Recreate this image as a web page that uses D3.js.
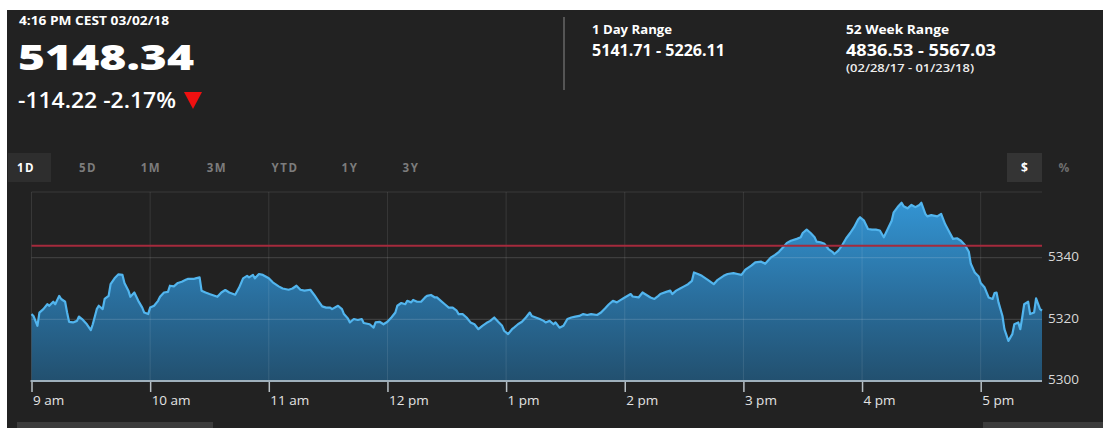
<!DOCTYPE html>
<html>
<head>
<meta charset="utf-8">
<script src="https://cdn.jsdelivr.net/npm/d3@7"></script>
<style>
  html, body { margin: 0; padding: 0; background: #ffffff; }
  svg { display: block; }
  text { font-family: "Open Sans", "DejaVu Sans", sans-serif; }
</style>
</head>
<body>
<svg id="chart" width="1103" height="428"></svg>
<script>
// ---------------- data ----------------
const quoteTime = "4:16 PM CEST 03/02/18";
const lastPrice = "5148.34";
const netChange = "-114.22";
const pctChange = "-2.17%";
const dayRangeLabel = "1 Day Range";
const dayRange = "5141.71 - 5226.11";
const weekRangeLabel = "52 Week Range";
const weekRange = "4836.53 - 5567.03";
const weekRangeDates = "(02/28/17 - 01/23/18)";
const periodTabs = ["1D", "5D", "1M", "3M", "YTD", "1Y", "3Y"];
const unitTabs = ["$", "%"];
const yTickValues = [5300, 5320, 5340];
const previousClose = 5343.9;

// minutes after 9:00 am
const minutesAfterOpen = [
  0,1,3,4,6,8,9,11,12,14,15,17,18,19,21,23,24,26,28,30,31,33,34,36,37,39,40,42,44,46,
  47,49,50,52,54,56,57,59,60,62,64,65,67,69,70,72,74,76,78,79,82,83,85,86,88,90,94,96,98,100,
  103,105,107,109,110,112,113,115,117,120,122,125,127,130,132,134,136,138,141,143,145,147,149,151,152,155,157,158,160,161,
  163,165,167,168,171,173,174,176,178,180,182,184,185,187,189,190,192,193,195,197,199,200,202,204,205,207,209,211,213,215,
  216,218,220,222,224,226,228,230,232,234,236,238,239,241,243,244,246,248,250,252,253,255,257,259,260,262,264,265,267,269,
  271,273,275,277,279,281,283,286,288,290,292,294,296,298,300,303,304,307,309,311,313,315,317,318,321,323,324,326,328,330,
  332,334,335,337,339,342,345,347,350,352,355,357,359,361,364,366,369,371,374,376,378,380,382,384,387,389,390,392,394,396,
  397,399,401,403,405,406,408,410,412,414,416,418,419,421,423,425,427,429,431,433,435,436,438,440,441,443,445,447,449,450,
  452,453,455,458,460,462,464,466,468,470,472,474,475,477,479,480,482,484,486,487,488,489,491,492,494,496,497,499,500,501,
  502,504,505,507,508,510,511
];
const indexValues = [
  5321.7,5321.1,5317.9,5322.2,5323.3,5324.9,5324.4,5325.7,5324.9,5327.6,5326.6,5325.7,5322.2,5319.2,5319.0,5319.5,5320.9,5319.8,5318.4,5316.5,5318.4,5323.3,5324.4,5323.3,5326.6,5327.6,5331.4,5333.3,5334.6,5334.4,
  5331.8,5329.3,5327.3,5328.7,5326.0,5323.8,5322.2,5321.7,5323.8,5324.4,5326.0,5327.3,5328.7,5328.9,5330.9,5330.7,5331.8,5332.2,5332.8,5333.1,5333.1,5333.3,5333.6,5329.3,5328.7,5328.2,5327.3,5328.7,5329.5,5328.7,
  5328.0,5330.3,5333.3,5334.1,5333.6,5334.4,5333.3,5334.7,5334.4,5333.3,5332.0,5330.7,5330.0,5329.6,5330.0,5330.9,5329.6,5329.3,5329.6,5327.9,5326.0,5324.2,5323.8,5323.8,5323.3,5324.4,5323.3,5321.7,5320.3,5319.0,
  5320.1,5319.8,5320.1,5318.8,5318.4,5317.3,5319.0,5319.2,5318.4,5319.2,5320.6,5322.2,5324.4,5325.3,5324.9,5326.0,5325.5,5326.3,5325.7,5325.7,5327.1,5327.6,5327.9,5327.1,5327.1,5326.0,5324.9,5323.8,5323.8,5322.8,
  5321.7,5321.7,5320.6,5319.0,5318.4,5316.8,5317.9,5318.8,5319.5,5320.6,5319.2,5317.9,5316.3,5315.2,5316.8,5317.3,5318.4,5319.2,5320.6,5322.2,5321.1,5320.6,5320.1,5319.5,5319.0,5319.5,5318.4,5319.0,5317.3,5317.9,
  5320.1,5320.6,5320.9,5321.1,5321.7,5321.4,5321.7,5321.4,5322.2,5323.5,5324.9,5326.0,5325.5,5326.3,5327.1,5328.2,5327.4,5327.1,5328.7,5327.9,5327.1,5326.6,5327.6,5328.2,5328.9,5329.3,5328.2,5329.3,5330.0,5330.7,
  5331.4,5332.5,5335.2,5334.7,5334.1,5332.8,5331.4,5332.8,5334.1,5334.7,5335.0,5334.7,5334.4,5336.1,5337.4,5338.5,5338.7,5338.0,5340.1,5340.9,5341.9,5343.3,5344.8,5345.5,5346.1,5346.6,5348.0,5349.1,5348.0,5346.6,
  5345.2,5345.0,5344.5,5342.8,5341.9,5341.2,5342.3,5344.1,5346.3,5348.0,5349.9,5352.4,5353.1,5352.0,5349.3,5349.1,5349.1,5348.8,5346.6,5349.3,5352.0,5354.7,5356.4,5357.8,5356.7,5356.0,5357.1,5356.4,5357.1,5357.8,
  5354.2,5353.4,5353.8,5353.4,5354.2,5350.9,5348.5,5346.1,5346.3,5345.5,5344.1,5341.9,5338.0,5335.2,5333.9,5331.8,5330.3,5327.1,5326.6,5328.5,5328.7,5325.5,5321.1,5316.8,5313.0,5315.2,5318.4,5319.0,5316.8,5320.6,
  5324.9,5325.7,5321.7,5322.2,5326.8,5323.3,5322.8
];

// ---------------- layout ----------------
const svg = d3.select("#chart");
const W = 1103, H = 428;
const plot = { left: 31.5, right: 1042, top: 192, bottom: 381 };

svg.append("rect").attr("x", 7).attr("y", 10).attr("width", W - 7).attr("height", H - 10).attr("fill", "#222222");

// ---------------- header ----------------
const hdr = svg.append("g");
hdr.append("text").attr("x", 19).attr("y", 25).attr("fill", "#ffffff")
  .attr("font-size", 12).attr("font-weight", 700).attr("textLength", 150).attr("lengthAdjust", "spacingAndGlyphs")
  .text(quoteTime);
hdr.append("text").attr("x", 18).attr("y", 70).attr("fill", "#ffffff")
  .attr("font-size", 36).attr("font-weight", 800).attr("textLength", 176).attr("lengthAdjust", "spacingAndGlyphs")
  .text(lastPrice);
hdr.append("text").attr("x", 18).attr("y", 108).attr("fill", "#ffffff")
  .attr("font-size", 22).attr("font-weight", 600).attr("textLength", 158).attr("lengthAdjust", "spacingAndGlyphs")
  .text(netChange + "  " + pctChange);
hdr.append("path").attr("d", "M184,92 L202,92 L193,109 Z").attr("fill", "#f01010");

hdr.append("line").attr("x1", 564).attr("x2", 564).attr("y1", 17).attr("y2", 90)
  .attr("stroke", "#555555").attr("stroke-width", 2);

hdr.append("text").attr("x", 592).attr("y", 34).attr("fill", "#ffffff")
  .attr("font-size", 12).attr("font-weight", 700).attr("textLength", 80).attr("lengthAdjust", "spacingAndGlyphs")
  .text(dayRangeLabel);
hdr.append("text").attr("x", 592).attr("y", 56).attr("fill", "#ffffff")
  .attr("font-size", 16.5).attr("font-weight", 700).attr("textLength", 133).attr("lengthAdjust", "spacingAndGlyphs")
  .text(dayRange);
hdr.append("text").attr("x", 846).attr("y", 34).attr("fill", "#ffffff")
  .attr("font-size", 12).attr("font-weight", 700).attr("textLength", 103).attr("lengthAdjust", "spacingAndGlyphs")
  .text(weekRangeLabel);
hdr.append("text").attr("x", 846).attr("y", 56).attr("fill", "#ffffff")
  .attr("font-size", 16.5).attr("font-weight", 700).attr("textLength", 150).attr("lengthAdjust", "spacingAndGlyphs")
  .text(weekRange);
hdr.append("text").attr("x", 846).attr("y", 72).attr("fill", "#eeeeee")
  .attr("font-size", 10.5).attr("font-weight", 600).attr("textLength", 128).attr("lengthAdjust", "spacingAndGlyphs")
  .text(weekRangeDates);

// ---------------- tabs ----------------
const tabX = [26, 88, 151, 217, 285, 350, 411];
const tabs = svg.append("g");
tabs.append("rect").attr("x", 8).attr("y", 153).attr("width", 43).attr("height", 29).attr("fill", "#2e2e2e");
tabs.selectAll("text.tab").data(periodTabs).join("text").attr("class", "tab")
  .attr("x", (d, i) => tabX[i]).attr("y", 172).attr("text-anchor", "middle")
  .attr("font-size", 11.5).attr("font-weight", 700).attr("letter-spacing", 1.5)
  .attr("fill", (d, i) => i === 0 ? "#ffffff" : "#7c7c7c")
  .text(d => d);
tabs.append("rect").attr("x", 1007).attr("y", 153).attr("width", 35).attr("height", 29).attr("fill", "#343434");
const unitX = [1024.5, 1064];
tabs.selectAll("text.unit").data(unitTabs).join("text").attr("class", "unit")
  .attr("x", (d, i) => unitX[i]).attr("y", 172).attr("text-anchor", "middle")
  .attr("font-size", 12).attr("font-weight", 700)
  .attr("fill", (d, i) => i === 0 ? "#ffffff" : "#6e6e6e")
  .text(d => d);

// ---------------- scales ----------------
const base = new Date(2018, 2, 2, 9, 0);
const toDate = m => new Date(base.getTime() + m * 60000);
const series = minutesAfterOpen.map((m, i) => ({ t: toDate(m), v: indexValues[i] }));

const x = d3.scaleTime()
  .domain([toDate(0), toDate(511)])
  .range([plot.left, plot.right]);
const y = d3.scaleLinear()
  .domain([5300, 5360])
  .range([plot.bottom, 196]);

// ---------------- gradient ----------------
const defs = svg.append("defs");
const grad = defs.append("linearGradient").attr("id", "areaGrad")
  .attr("gradientUnits", "userSpaceOnUse")
  .attr("x1", 0).attr("x2", 0).attr("y1", plot.top).attr("y2", plot.bottom);
grad.append("stop").attr("offset", "0%").attr("stop-color", "#3498d8");
grad.append("stop").attr("offset", "55%").attr("stop-color", "#2a6f9e");
grad.append("stop").attr("offset", "100%").attr("stop-color", "#22506f");

// ---------------- area + line ----------------
const area = d3.area().x(d => x(d.t)).y0(plot.bottom).y1(d => y(d.v));
const line = d3.line().x(d => x(d.t)).y(d => y(d.v));

svg.append("path").datum(series).attr("d", area).attr("fill", "url(#areaGrad)");

// grid lines (over the area, translucent)
const grid = svg.append("g");
const hours = x.ticks(d3.timeHour.every(1));
grid.selectAll("line.v").data(hours).join("line").attr("class", "v")
  .attr("x1", d => x(d)).attr("x2", d => x(d))
  .attr("y1", plot.top).attr("y2", plot.bottom)
  .attr("stroke", "#ffffff").attr("stroke-opacity", 0.1).attr("stroke-width", 1);
grid.selectAll("line.h").data(yTickValues.slice(1)).join("line").attr("class", "h")
  .attr("x1", plot.left).attr("x2", plot.right)
  .attr("y1", d => y(d)).attr("y2", d => y(d))
  .attr("stroke", "#ffffff").attr("stroke-opacity", 0.13).attr("stroke-width", 1.2);
grid.append("line")
  .attr("x1", plot.left).attr("x2", plot.right)
  .attr("y1", plot.top).attr("y2", plot.top)
  .attr("stroke", "#ffffff").attr("stroke-opacity", 0.1).attr("stroke-width", 1);

svg.append("path").datum(series).attr("d", line)
  .attr("fill", "none").attr("stroke", "#52b5ee").attr("stroke-width", 2.2)
  .attr("stroke-linejoin", "round");

// previous close line
svg.append("line")
  .attr("x1", plot.left).attr("x2", plot.right)
  .attr("y1", y(previousClose)).attr("y2", y(previousClose))
  .attr("stroke", "#a52a3c").attr("stroke-width", 2);

// ---------------- axes ----------------
const fmt = d3.timeFormat("%-I %p");
const xAxis = d3.axisBottom(x)
  .ticks(d3.timeHour.every(1))
  .tickSize(11)
  .tickFormat(d => fmt(d).toLowerCase());
const gx = svg.append("g").attr("transform", `translate(0,${plot.bottom})`).call(xAxis);
gx.select(".domain").remove();
gx.selectAll(".tick line").attr("stroke", "#b8c0c6").attr("stroke-width", 1.5);
gx.selectAll(".tick text")
  .attr("text-anchor", "start").attr("x", 1).attr("y", 14).attr("dy", "0.71em")
  .attr("fill", "#e4e4e4").attr("font-size", 13.5).attr("font-family", "'Open Sans', sans-serif");
svg.append("line")
  .attr("x1", plot.left - 1).attr("x2", plot.right)
  .attr("y1", plot.bottom).attr("y2", plot.bottom)
  .attr("stroke", "#9fb0bc").attr("stroke-width", 2);

const yAxis = d3.axisRight(y).tickValues(yTickValues).tickSize(0).tickPadding(6).tickFormat(d3.format("d"));
const gy = svg.append("g").attr("transform", `translate(${plot.right},0)`).call(yAxis);
gy.select(".domain").remove();
gy.selectAll(".tick text").attr("fill", "#d8d8d8").attr("font-size", 13.5).attr("dy", "0.2em")
  .attr("font-family", "'Open Sans', sans-serif");

// ---------------- bottom scroll bars ----------------
svg.append("rect").attr("x", 17).attr("y", 422).attr("width", 196).attr("height", 6).attr("fill", "#3c3c3c");
svg.append("rect").attr("x", 983).attr("y", 422).attr("width", 120).attr("height", 6).attr("fill", "#3c3c3c");
</script>
</body>
</html>
